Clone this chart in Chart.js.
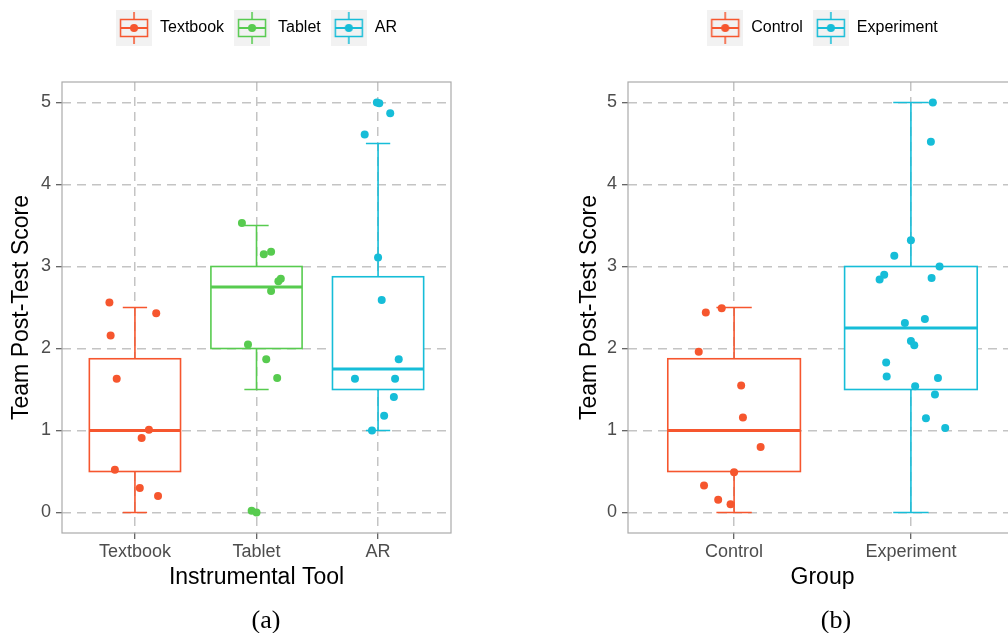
<!DOCTYPE html>
<html>
<head>
<meta charset="utf-8">
<script src="https://cdn.jsdelivr.net/npm/chart.js@4.4.1/dist/chart.umd.min.js"></script>
<style>
  html, body { margin: 0; padding: 0; overflow: hidden; background: #fff; }
  #wrap { position: relative; width: 1008px; height: 633px; overflow: hidden; }
  canvas { position: absolute; top: 0; }
  .cap { position: absolute; top: 606px; font-family: 'Liberation Serif', 'Times New Roman', serif;
         font-size: 26px; line-height: 28px; color: #000; transform: translateX(-50%); }
</style>
</head>
<body>
<div id="wrap">
  <canvas id="toolChart" width="504" height="633" style="left:0"></canvas>
  <canvas id="groupChart" width="540" height="633" style="left:504px"></canvas>
  <div class="cap" style="left:266px">(a)</div>
  <div class="cap" style="left:836px">(b)</div>
</div>
<script>
// ---- panel (a): instrumental tool ----
var toolCats = ['Textbook', 'Tablet', 'AR'];
var toolLow  = [0, 1.5, 1.0];
var toolQ1   = [0.5, 2.0, 1.5];
var toolMed  = [1.0, 2.75, 1.75];
var toolQ3   = [1.875, 3.0, 2.875];
var toolHigh = [2.5, 3.5, 4.5];

var textbookScores = [2.56, 2.43, 2.16, 1.63, 1.01, 0.91, 0.52, 0.30, 0.20];
var textbookJitter = [-0.21, 0.175, -0.20, -0.15, 0.115, 0.055, -0.165, 0.04, 0.19];
var tabletScores = [3.53, 3.15, 3.18, 2.85, 2.82, 2.70, 2.05, 1.87, 1.64, 0.02, 0.0];
var tabletJitter = [-0.12, 0.06, 0.12, 0.20, 0.18, 0.12, -0.07, 0.08, 0.17, -0.04, 0.0];
var arScores = [5.0, 4.99, 4.87, 4.61, 3.11, 2.59, 1.87, 1.63, 1.63, 1.41, 1.18, 1.00];
var arJitter = [-0.01, 0.01, 0.10, -0.11, 0.0, 0.03, 0.17, -0.19, 0.14, 0.13, 0.05, -0.05];

// ---- panel (b): group ----
var groupCats = ['Control', 'Experiment'];
var groupLow  = [0, 0];
var groupQ1   = [0.5, 1.5];
var groupMed  = [1.0, 2.25];
var groupQ3   = [1.875, 3.0];
var groupHigh = [2.5, 5.0];

var controlScores = [2.44, 2.49, 1.96, 1.55, 1.16, 0.80, 0.49, 0.33, 0.155, 0.10];
var controlJitter = [-0.16, -0.07, -0.20, 0.04, 0.05, 0.15, 0.0, -0.17, -0.09, -0.02];
var experimentScores = [5.00, 4.52, 3.32, 3.13, 3.00, 2.90, 2.84, 2.86, 2.36, 2.31, 2.09, 2.04, 1.83, 1.66, 1.64, 1.54, 1.44, 1.15, 1.03];
var experimentJitter = [0.124, 0.113, 0.0, -0.094, 0.162, -0.151, -0.177, 0.117, 0.079, -0.034, 0.0, 0.019, -0.14, -0.137, 0.153, 0.024, 0.136, 0.085, 0.194];

var yTicks = [0, 1, 2, 3, 4, 5];

var RED = '#F6562E', GREEN = '#57CB4F', CYAN = '#16BDD8';

Chart.defaults.font.family = "'Liberation Sans', Arial, sans-serif";
Chart.defaults.animation = false;

// legend key: little boxplot glyph on grey square
function makeIcon(color) {
  var c = document.createElement('canvas');
  c.width = 36; c.height = 36;
  var g = c.getContext('2d');
  g.fillStyle = '#F2F2F2';
  g.fillRect(0, 0, 36, 36);
  g.strokeStyle = color;
  g.lineWidth = 1.5;
  g.beginPath();
  g.moveTo(18, 2); g.lineTo(18, 9);
  g.moveTo(18, 27); g.lineTo(18, 34);
  g.stroke();
  g.strokeRect(4.5, 9.5, 27, 17);
  g.lineWidth = 2;
  g.beginPath(); g.moveTo(4.5, 18); g.lineTo(31.5, 18); g.stroke();
  g.fillStyle = color;
  g.beginPath(); g.arc(18, 18, 4, 0, Math.PI * 2); g.fill();
  return c;
}

function boxPlugin(low, q1, med, q3, high, colors) {
  return {
    id: 'boxes',
    beforeDatasetsDraw: function (chart) {
      var ctx = chart.ctx, xs = chart.scales.x, ys = chart.scales.y;
      for (var i = 0; i < low.length; i++) {
        var x = xs.getPixelForValue(i);
        var half = xs.getPixelForValue(i + 0.375) - x;
        var cap = xs.getPixelForValue(i + 0.1) - x;
        var yLo = ys.getPixelForValue(low[i]), yQ1 = ys.getPixelForValue(q1[i]);
        var yMed = ys.getPixelForValue(med[i]), yQ3 = ys.getPixelForValue(q3[i]);
        var yHi = ys.getPixelForValue(high[i]);
        ctx.save();
        ctx.strokeStyle = colors[i];
        ctx.lineWidth = 1.6;
        ctx.beginPath();
        ctx.moveTo(x, yQ3); ctx.lineTo(x, yHi);
        ctx.moveTo(x, yQ1); ctx.lineTo(x, yLo);
        ctx.moveTo(x - cap, yHi); ctx.lineTo(x + cap, yHi);
        ctx.moveTo(x - cap, yLo); ctx.lineTo(x + cap, yLo);
        ctx.stroke();
        ctx.fillStyle = '#fff';
        ctx.fillRect(x - half, yQ3, half * 2, yQ1 - yQ3);
        ctx.strokeRect(x - half, yQ3, half * 2, yQ1 - yQ3);
        ctx.lineWidth = 3.2;
        ctx.beginPath(); ctx.moveTo(x - half, yMed); ctx.lineTo(x + half, yMed); ctx.stroke();
        ctx.restore();
      }
    }
  };
}

var panelBorder = {
  id: 'panelBorder',
  afterDatasetsDraw: function (chart) {
    var a = chart.chartArea, ctx = chart.ctx;
    ctx.save();
    ctx.strokeStyle = '#ABABAB';
    ctx.lineWidth = 1.2;
    ctx.strokeRect(a.left, a.top, a.right - a.left, a.bottom - a.top);
    ctx.restore();
  }
};

function pointSet(i, scores, jitter, color) {
  return {
    data: scores.map(function (v, k) { return { x: i + jitter[k], y: v }; }),
    backgroundColor: color,
    borderWidth: 0,
    pointRadius: 4,
    pointHoverRadius: 4
  };
}

function makeChart(id, cats, datasets, colors, xTitle, pad, yTitlePad, plugin) {
  var icons = colors.map(makeIcon);
  return new Chart(document.getElementById(id).getContext('2d'), {
    type: 'scatter',
    data: { datasets: datasets },
    options: {
      responsive: false,
      devicePixelRatio: 1,
      layout: { padding: pad },
      plugins: {
        tooltip: { enabled: false },
        title: { display: true, text: '', position: 'top', weight: 500, fullSize: false, padding: 0, font: { size: 30 } },
        legend: {
          position: 'top',
          fullSize: false,
          labels: {
            usePointStyle: true,
            pointStyleWidth: 36,
            padding: 10,
            color: '#000',
            font: { size: 16 },
            generateLabels: function () {
              return cats.map(function (c, i) {
                return { text: c, pointStyle: icons[i], fillStyle: colors[i], strokeStyle: colors[i], lineWidth: 0, hidden: false, datasetIndex: i, fontColor: '#000' };
              });
            }
          }
        }
      },
      scales: {
        x: {
          type: 'linear',
          min: -0.6,
          max: cats.length - 0.4,
          afterBuildTicks: function (s) { s.ticks = cats.map(function (c, i) { return { value: i }; }); },
          afterFit: function (s) { s.height = 60; },
          grid: { color: '#C4C4C4', lineWidth: 1.5, tickLength: 6, tickColor: '#333', tickWidth: 1, tickBorderDash: [] },
          border: { display: false, dash: [9, 6] },
          ticks: { color: '#4D4D4D', font: { size: 18 }, padding: 2, autoSkip: false, maxRotation: 0,
                   callback: function (v) { return cats[v]; } },
          title: { display: true, text: xTitle, color: '#000', font: { size: 23 }, padding: { top: 0, bottom: 2 } }
        },
        y: {
          min: -0.25,
          max: 5.25,
          afterBuildTicks: function (s) { s.ticks = yTicks.map(function (v) { return { value: v }; }); },
          afterFit: function (s) { s.width = 62; },
          grid: { color: '#C4C4C4', lineWidth: 1.5, tickLength: 6, tickColor: '#333', tickWidth: 1, tickBorderDash: [] },
          border: { display: false, dash: [9, 6] },
          ticks: { color: '#4D4D4D', font: { size: 18 }, padding: 5 },
          title: { display: true, text: 'Team Post-Test Score', color: '#000', font: { size: 23 }, padding: { top: yTitlePad, bottom: 0 } }
        }
      }
    },
    plugins: [plugin, panelBorder]
  });
}

var toolColors = [RED, GREEN, CYAN];
var toolChart = makeChart('toolChart', toolCats, [
    pointSet(0, textbookScores, textbookJitter, RED),
    pointSet(1, tabletScores, tabletJitter, GREEN),
    pointSet(2, arScores, arJitter, CYAN)
  ], toolColors, 'Instrumental Tool',
  { top: 10, bottom: 40, left: 0, right: 53 }, 8,
  boxPlugin(toolLow, toolQ1, toolMed, toolQ3, toolHigh, toolColors));

var groupColors = [RED, CYAN];
var groupChart = makeChart('groupChart', groupCats, [
    pointSet(0, controlScores, controlJitter, RED),
    pointSet(1, experimentScores, experimentJitter, CYAN)
  ], groupColors, 'Group',
  { top: 10, bottom: 40, left: 62, right: 27 }, 10,
  boxPlugin(groupLow, groupQ1, groupMed, groupQ3, groupHigh, groupColors));
</script>
</body>
</html>
